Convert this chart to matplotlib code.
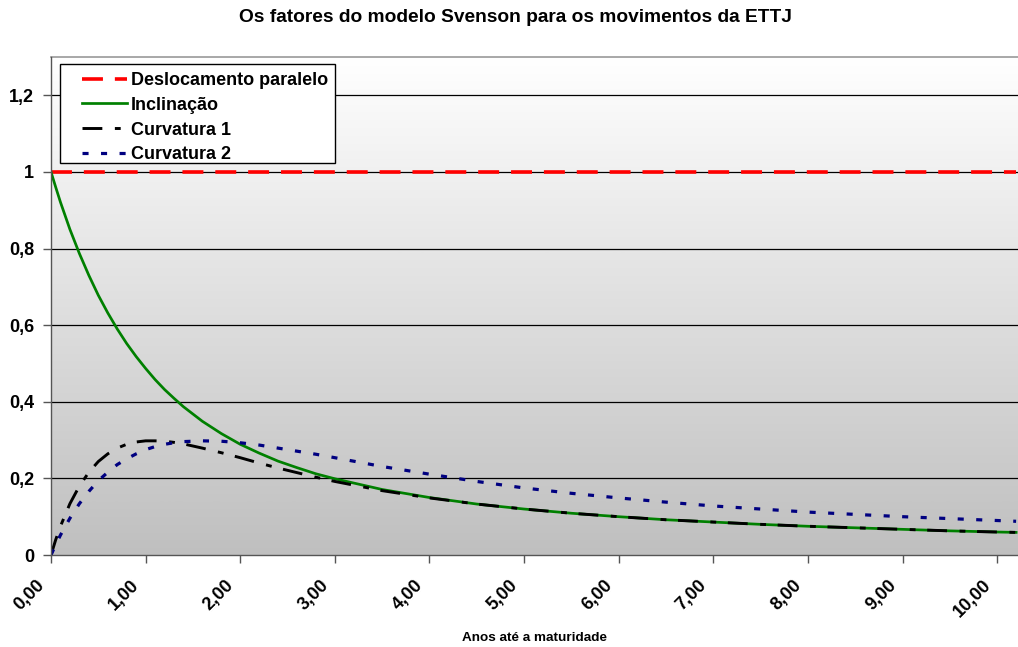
import numpy as np
import matplotlib
matplotlib.use("Agg")
import matplotlib.pyplot as plt
import matplotlib.transforms as mtransforms
from matplotlib.patches import Rectangle

# ---- data ----
anos = [0.0, 0.05, 0.1, 0.2, 0.3, 0.4, 0.5, 0.6, 0.7, 0.8, 0.9, 1.0, 1.1, 1.2, 1.3, 1.4,
        1.6, 1.8, 2.0, 2.2, 2.4, 2.6, 2.8, 3.0,
        3.5, 4.0, 4.5, 5.0, 5.5, 6.0, 6.5, 7.0, 7.5, 8.0, 8.5, 9.0, 9.5, 10.0, 10.2]
deslocamento = [1.0] * len(anos)
inclinacao = [1.0, 0.960, 0.921, 0.850, 0.787, 0.730, 0.678, 0.632, 0.590, 0.552, 0.518,
              0.487, 0.458, 0.432, 0.409, 0.387,
              0.349, 0.317, 0.289, 0.266, 0.245, 0.228, 0.212, 0.199,
              0.171, 0.150, 0.133, 0.120, 0.109, 0.100, 0.092, 0.086, 0.080, 0.075,
              0.071, 0.067, 0.063, 0.060, 0.059]
curvatura1 = [0.0, 0.040, 0.075, 0.134, 0.180, 0.216, 0.244, 0.264, 0.279, 0.289, 0.295,
              0.298, 0.298, 0.297, 0.294, 0.290,
              0.279, 0.267, 0.254, 0.240, 0.227, 0.215, 0.203, 0.192,
              0.168, 0.149, 0.133, 0.120, 0.109, 0.100, 0.092, 0.086, 0.080, 0.075,
              0.071, 0.067, 0.063, 0.060, 0.059]
curvatura2 = [0.0, 0.027, 0.052, 0.096, 0.134, 0.166, 0.194, 0.216, 0.236, 0.251, 0.264,
              0.275, 0.283, 0.289, 0.293, 0.296,
              0.298, 0.297, 0.293, 0.287, 0.279, 0.271, 0.263, 0.254,
              0.231, 0.211, 0.192, 0.175, 0.161, 0.149, 0.138, 0.128, 0.120, 0.112,
              0.106, 0.100, 0.095, 0.090, 0.088]
x_ticks = [0, 1, 2, 3, 4, 5, 6, 7, 8, 9, 10]
x_ticklabels = ["0,00", "1,00", "2,00", "3,00", "4,00", "5,00", "6,00", "7,00", "8,00", "9,00", "10,00"]
y_ticks = [0, 0.2, 0.4, 0.6, 0.8, 1.0, 1.2]
y_ticklabels = ["0", "0,2", "0,4", "0,6", "0,8", "1", "1,2"]
labels = ["Deslocamento paralelo", "Inclinação", "Curvatura 1", "Curvatura 2"]

plt.rcParams['font.family'] = ['Liberation Sans', 'DejaVu Sans']
plt.rcParams['font.weight'] = 'bold'

fig = plt.figure(figsize=(10.18, 6.47), dpi=100)
W, H = 1018, 647
ax = fig.add_axes([51 / W, 1 - 555 / H, (1018 - 51) / W, (555 - 57) / H])

xmax = 10.22
ymax = 1.3

# gradient background (white at top, grey at bottom)
grad = np.linspace(0, 1, 256).reshape(-1, 1)
top = np.array([1.0, 1.0, 1.0])
bot = np.array([0.75, 0.75, 0.75])
img = top[None, None, :] * (1 - grad[:, :, None]) + bot[None, None, :] * grad[:, :, None]
ax.imshow(img, extent=[0, xmax, 0, ymax], origin='upper', aspect='auto', zorder=0,
          interpolation='bicubic')
ax.set_xlim(0, xmax)
ax.set_ylim(0, ymax)

for yv in y_ticks[1:]:
    ax.axhline(yv, color='black', lw=0.9, zorder=1)

l1, = ax.plot(anos, deslocamento, color='#ff0000', lw=2.6, dashes=(5.8, 3.3), zorder=3,
              dash_capstyle='butt')
l2, = ax.plot(anos, inclinacao, color='#008000', lw=1.95, zorder=4)
l3, = ax.plot(anos, curvatura1, color='black', lw=2.1, dashes=(6.8, 4.3, 2.0, 4.0), zorder=5,
              dash_capstyle='butt')
l4, = ax.plot(anos, curvatura2, color='#000080', lw=2.3, dashes=(1.9, 3.9), zorder=6,
              dash_capstyle='butt')

ax.set_xticks(x_ticks)
ax.set_xticklabels([])
# rotated x labels drawn as text, anchored below each tick
base = mtransforms.blended_transform_factory(ax.transData, ax.transAxes)
offset = mtransforms.ScaledTranslation(-15 / 100, -22 / 100, fig.dpi_scale_trans)
for xt, lab in zip(x_ticks, x_ticklabels):
    ax.text(xt, 0, lab, transform=base + offset, rotation=45, rotation_mode='anchor',
            ha='right', va='top', fontsize=13, fontweight='bold', clip_on=False)
ax.set_yticks(y_ticks)
ax.set_yticklabels(y_ticklabels, fontsize=13, fontweight='bold')
ax.tick_params(axis='x', direction='out', length=6, width=1, color='#555555', pad=4)
ax.tick_params(axis='y', direction='out', length=6, width=1, color='#555555', pad=6)

for name in ['left', 'bottom']:
    ax.spines[name].set_color('#555555')
    ax.spines[name].set_linewidth(1)
    ax.spines[name].set_zorder(7)
ax.spines['top'].set_color('#999999')
ax.spines['top'].set_linewidth(1.2)
ax.spines['right'].set_visible(False)

fig.text(534 / W, 1 - 638 / H, "Anos até a maturidade", ha='center', va='center',
         fontsize=9.7, fontweight='bold')
fig.text(515 / W, 1 - 18 / H, "Os fatores do modelo Svenson para os movimentos da ETTJ",
         ha='center', va='center', fontsize=13.8, fontweight='bold')

# legend frame
x0 = (60 - 51) / (1018 - 51)
x1 = (335 - 51) / (1018 - 51)
yt = (555 - 64) / (555 - 57)
yb = (555 - 163) / (555 - 57)
ax.add_patch(Rectangle((x0, yb), x1 - x0, yt - yb, transform=ax.transAxes,
                       facecolor='white', edgecolor='black', lw=1, zorder=8))
leg = ax.legend([l1, l2, l3, l4], labels, loc='upper left',
                bbox_to_anchor=((82 - 51) / (1018 - 51), (555 - 72) / (555 - 57)),
                borderaxespad=0, borderpad=0, frameon=False, handlelength=2.5,
                handletextpad=0.2, labelspacing=0.43,
                prop={'family': 'Liberation Sans', 'weight': 'bold', 'size': 13})
leg.set_zorder(9)

fig.savefig("out.png", dpi=100)
